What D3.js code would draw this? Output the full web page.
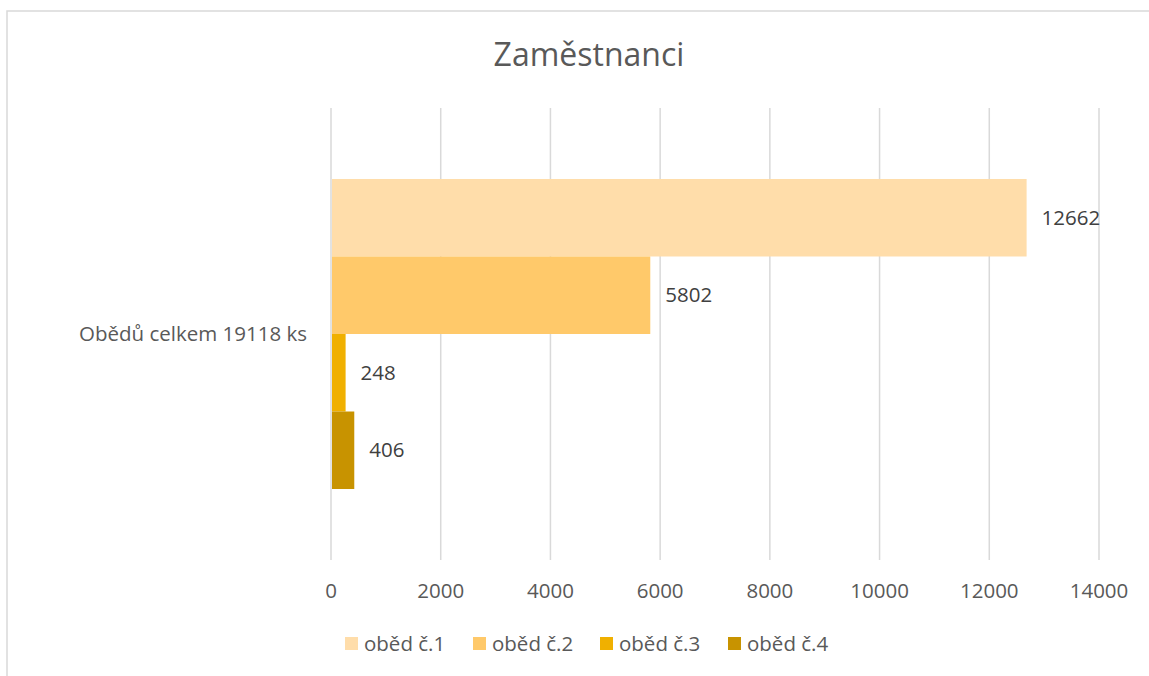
<!DOCTYPE html>
<html>
<head>
<meta charset="utf-8">
<script src="https://cdn.jsdelivr.net/npm/d3@7"></script>
<style>
  body { margin: 0; background: #fff; }
  text { font-family: "Open Sans", "Noto Sans", sans-serif; }
</style>
</head>
<body>
<svg id="chart" width="1149" height="676"></svg>
<script>
"use strict";

const title = "Zaměstnanci";
const category = "Obědů celkem 19118 ks";
const seriesNames = ["oběd č.1", "oběd č.2", "oběd č.3", "oběd č.4"];
const seriesValues = [12662, 5802, 248, 406];
const seriesColors = ["#FFDDAA", "#FFC96A", "#F0B000", "#C89300"];
const xTicks = [0, 2000, 4000, 6000, 8000, 10000, 12000, 14000];

const svg = d3.select("#chart");
const m = {left: 331, right: 1099, top: 108, bottom: 560};
const fs = 20.5;

// chart frame (runs off the picture on right/bottom)
svg.append("rect")
  .attr("x", 7).attr("y", 11)
  .attr("width", 1160).attr("height", 700)
  .attr("fill", "none").attr("stroke", "#d9d9d9").attr("stroke-width", 1.5);

svg.append("text")
  .attr("x", 589).attr("y", 66)
  .attr("text-anchor", "middle")
  .attr("font-size", 32).attr("fill", "#595959")
  .text(title);

let x = d3.scaleLinear().domain([0, 14000]).range([m.left, m.right]);
let y = d3.scaleBand().domain([category]).range([m.top, m.bottom]).paddingInner(0).paddingOuter(0.229);
let ySub = d3.scaleBand().domain(seriesNames).range([0, y.bandwidth()]);

// gridlines
svg.append("g").selectAll("line").data(xTicks).join("line")
  .attr("x1", d => x(d)).attr("x2", d => x(d))
  .attr("y1", m.top).attr("y2", m.bottom)
  .attr("stroke", "#d9d9d9").attr("stroke-width", 1.5);

// tick labels
svg.append("g").selectAll("text").data(xTicks).join("text")
  .attr("x", d => x(d)).attr("y", 598)
  .attr("text-anchor", "middle")
  .attr("font-size", fs).attr("fill", "#595959")
  .text(d => d);

// category label
svg.append("text")
  .attr("x", 307).attr("y", y(category) + y.bandwidth() / 2 + 7)
  .attr("text-anchor", "end")
  .attr("font-size", fs).attr("fill", "#595959")
  .text(category);

const rows = seriesNames.map((n, i) => ({name: n, value: seriesValues[i], color: seriesColors[i]}));

let g = svg.append("g").attr("transform", `translate(0,${y(category)})`);
g.selectAll("rect").data(rows).join("rect")
  .attr("x", x(0) + 1)
  .attr("y", d => ySub(d.name))
  .attr("width", d => x(d.value) - x(0))
  .attr("height", ySub.bandwidth())
  .attr("fill", d => d.color);

g.selectAll("text").data(rows).join("text")
  .attr("x", d => x(d.value) + 16)
  .attr("y", d => ySub(d.name) + ySub.bandwidth() / 2 + 7)
  .attr("font-size", fs).attr("fill", "#404040")
  .text(d => d.value);

// legend
const legX = [345, 473, 600, 728];
let leg = svg.append("g").selectAll("g").data(rows).join("g")
  .attr("transform", (d, i) => `translate(${legX[i]},637)`);
leg.append("rect").attr("width", 13).attr("height", 13).attr("fill", d => d.color);
leg.append("text").attr("x", 19).attr("y", 14)
  .attr("font-size", fs).attr("fill", "#595959")
  .text(d => d.name);
</script>
</body>
</html>
